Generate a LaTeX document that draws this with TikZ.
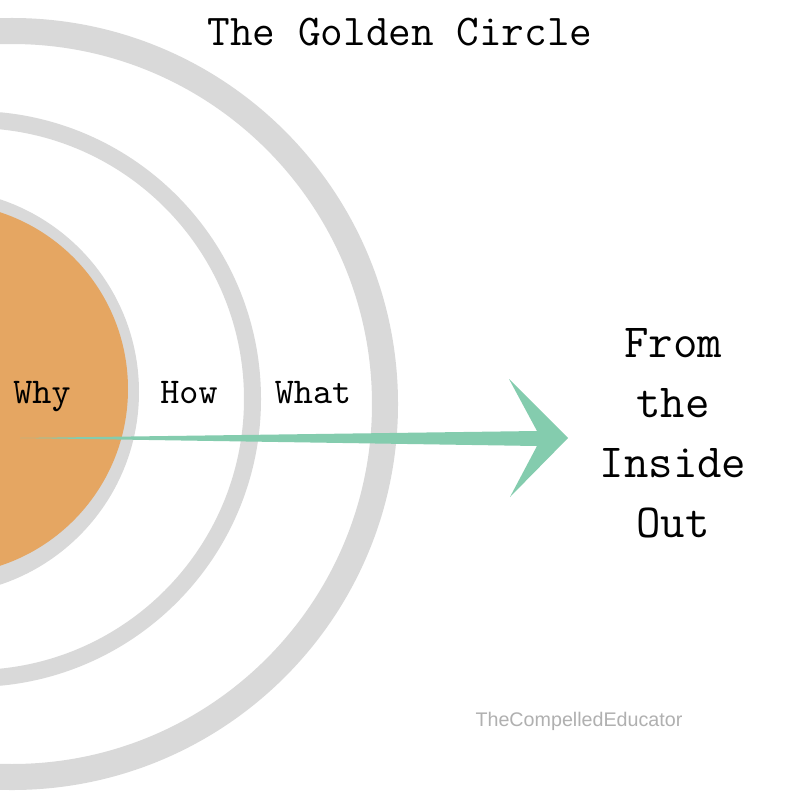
\documentclass[tikz,border=0pt]{standalone}
\usepackage{fontspec}
\usepackage{xcolor}
\usepackage{tikz}
\usetikzlibrary{calc}
\newfontfamily\markfont{Liberation Sans}
\definecolor{ringgray}{RGB}{217,217,217}
\definecolor{whyorange}{RGB}{229,166,98}
\definecolor{arrowgreen}{RGB}{132,204,174}
\definecolor{markgray}{RGB}{176,176,176}
\tikzset{
  ring/.style   ={draw=ringgray, fill=none},
  core/.style   ={fill=whyorange},
  title/.style  ={anchor=base, inner sep=0pt, font=\ttfamily\fontsize{12.5pt}{15pt}\selectfont},
  lbl/.style    ={anchor=base, inner sep=0pt, font=\ttfamily\fontsize{10.3pt}{12pt}\selectfont},
  side/.style   ={anchor=north, inner sep=0pt, align=center, font=\ttfamily\fontsize{13.5pt}{17pt}\selectfont},
  credit/.style ={anchor=base, inner sep=0pt, text=markgray, font=\markfont\fontsize{5.6pt}{7pt}\selectfont},
  shaft/.style  ={fill=arrowgreen},
}

\begin{document}
\begin{tikzpicture}[x=0.01cm, y=-0.01cm]
  \clip (0,0) rectangle (800,800);
  \fill[white] (0,0) rectangle (800,800);

  \draw[ring, line width=0.26cm] (12,404) circle (373);
  \draw[ring, line width=0.17cm] (-27,399) circle (279.5);
  \fill[ringgray] (-64,392) circle (203);
  \fill[core] (-58,389) circle (186);

  \coordinate (tail) at (20,438);
  \coordinate (tip)  at (568,438);
  \fill[shaft] (tail) -- ($(tip)+(-31,-7)$) -- ($(tip)+(-59,-59)$) -- (tip)
               -- ($(tip)+(-58,59)$) -- ($(tip)+(-31,8)$) -- cycle;

  \node[title]  (ttl)  at (400,45)  {The Golden Circle};
  \node[lbl]    (why)  at (42,403)  {Why};
  \node[lbl]    (how)  at (189,403) {How};
  \node[lbl]    (what) at (313,403) {What};
  \node[side]   (out)  at (673,328) {From\\the\\Inside\\Out};
  \node[credit] (src)  at (579,726) {TheCompelledEducator};
\end{tikzpicture}
\end{document}
